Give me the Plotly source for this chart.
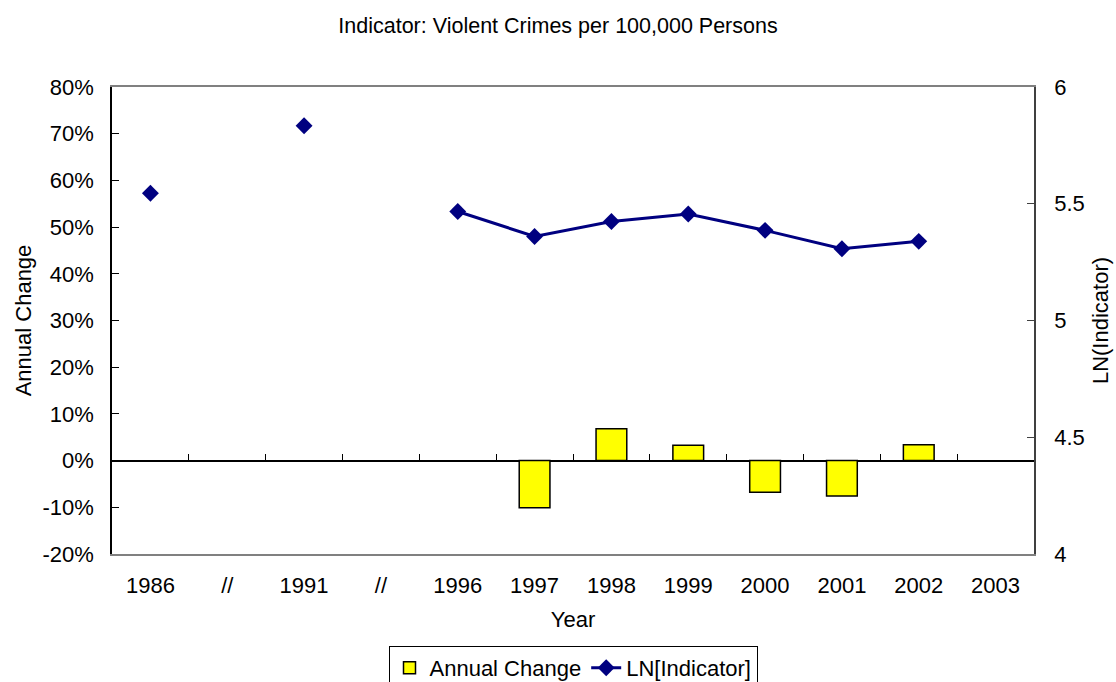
import plotly.graph_objects as go

# Category axis: years with break markers between the sparse early years
categories = ["1986", "//", "1991", "//", "1996", "1997", "1998", "1999",
              "2000", "2001", "2002", "2003"]
# Natural log of violent crimes per 100,000 persons
ln_indicator = [5.545, None, 5.834, None, 5.467, 5.360, 5.424, 5.456,
                5.386, 5.307, 5.339, None]
# Annual change of the indicator, in percent
annual_change = [None, None, None, None, None, -10.1, 6.8, 3.3,
                 -6.8, -7.6, 3.4, None]
# Left axis ticks (percent) and right axis ticks (log scale values)
pct_ticks = [-20, -10, 0, 10, 20, 30, 40, 50, 60, 70, 80]
ln_ticks = [4, 4.5, 5, 5.5, 6]

FONT = "Arial, Liberation Sans, sans-serif"
positions = list(range(len(categories)))
boundaries = [p + 0.5 for p in positions[:-1]]
x_range = [-0.5, len(categories) - 0.5]

fig = go.Figure()

fig.add_trace(go.Bar(
    x=positions,
    y=[None if v is None else v / 100 for v in annual_change],
    name="Annual Change",
    width=0.4,
    marker=dict(color="#FFFF00", line=dict(color="black", width=1.5)),
    yaxis="y",
))

fig.add_trace(go.Scatter(
    x=positions,
    y=ln_indicator,
    name="LN[Indicator]",
    mode="lines+markers",
    connectgaps=False,
    line=dict(color="#000080", width=3),
    marker=dict(symbol="diamond", size=13, color="#000080"),
    yaxis="y2",
))

# empty trace that carries the tick axis drawn along the zero line
fig.add_trace(go.Scatter(x=[], y=[], xaxis="x2", yaxis="y",
                         showlegend=False, hoverinfo="skip"))

fig.update_layout(
    width=1116,
    height=682,
    margin=dict(l=112, r=82, t=87, b=128),
    paper_bgcolor="white",
    plot_bgcolor="white",
    font=dict(family=FONT, size=22, color="black"),
    title=dict(
        text="Indicator: Violent Crimes per 100,000 Persons",
        x=0.5, xref="container", xanchor="center",
        y=1 - 25 / 682, yref="container", yanchor="middle",
        font=dict(family=FONT, size=21.5, color="black"),
    ),
    xaxis=dict(
        range=x_range,
        automargin=False,
        tickmode="array",
        tickvals=positions,
        ticktext=categories,
        ticks="",
        showgrid=False,
        zeroline=False,
        showline=True,
        linecolor="#808080",
        linewidth=1.5,
        mirror=True,
        ticklabelstandoff=11,
        title=dict(text="Year", standoff=14, font=dict(size=22)),
    ),
    xaxis2=dict(
        range=x_range,
        automargin=False,
        overlaying="x",
        anchor="free",
        position=0.2,
        side="bottom",
        tickmode="array",
        tickvals=boundaries,
        ticks="inside",
        ticklen=7,
        tickcolor="black",
        tickwidth=1,
        showticklabels=False,
        showgrid=False,
        zeroline=False,
        showline=False,
    ),
    yaxis=dict(
        range=[-0.2, 0.8],
        automargin=False,
        tickmode="array",
        tickvals=[t / 100 for t in pct_ticks],
        ticktext=[f"{t}%" for t in pct_ticks],
        ticks="inside",
        ticklen=7,
        tickcolor="black",
        showgrid=False,
        zeroline=True,
        zerolinecolor="black",
        zerolinewidth=1.5,
        showline=True,
        linecolor="black",
        linewidth=1.5,
        ticklabelstandoff=12,
        title=dict(text="Annual Change", standoff=5, font=dict(size=22)),
    ),
    yaxis2=dict(
        range=[4, 6],
        automargin=False,
        overlaying="y",
        side="right",
        tickmode="array",
        tickvals=ln_ticks,
        ticktext=[f"{t:g}" for t in ln_ticks],
        ticks="inside",
        ticklen=7,
        tickcolor="#404040",
        showgrid=False,
        zeroline=False,
        showline=True,
        linecolor="#404040",
        linewidth=1.5,
        ticklabelstandoff=14,
        title=dict(text="LN(Indicator)", standoff=9, font=dict(size=22)),
    ),
    legend=dict(
        orientation="h",
        x=0.5, xanchor="center", xref="paper",
        y=1 - 646 / 682, yanchor="top", yref="container",
        bordercolor="black",
        borderwidth=1,
        font=dict(family=FONT, size=22),
        traceorder="normal",
    ),
    showlegend=True,
)

fig.write_html("out.html")
